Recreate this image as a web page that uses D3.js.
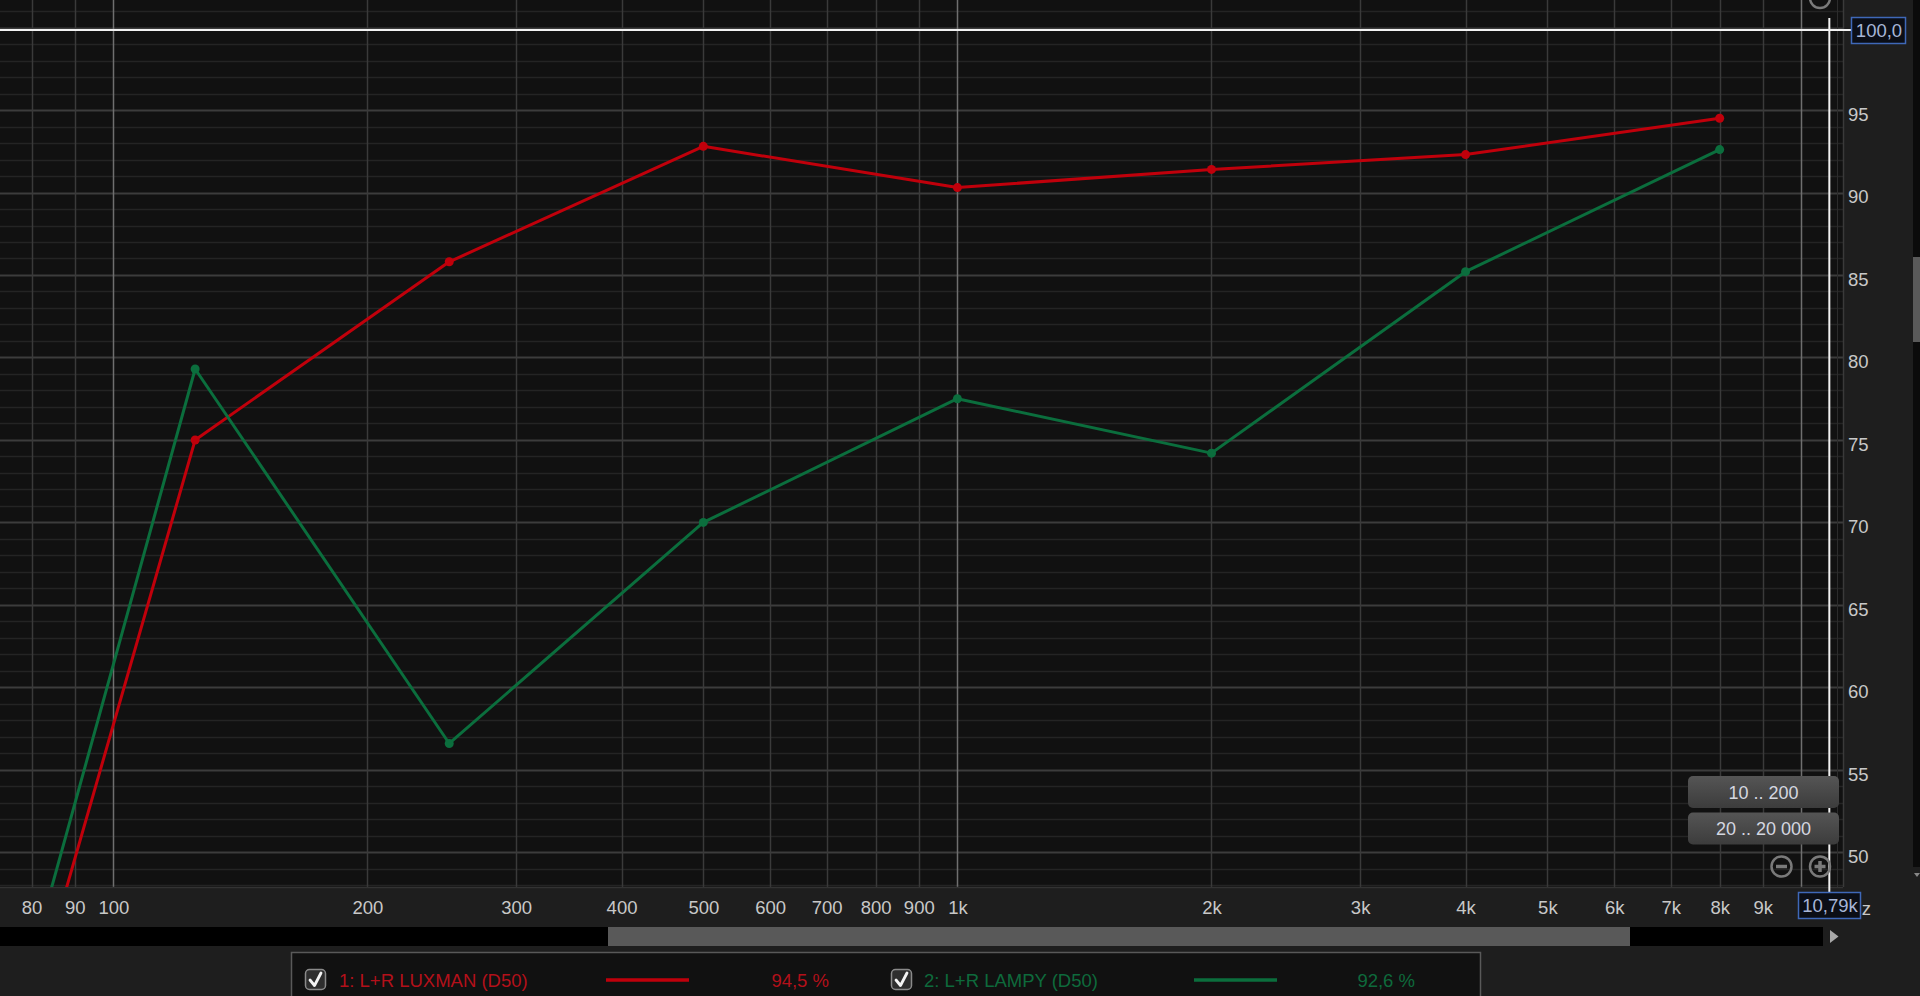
<!DOCTYPE html>
<html>
<head>
<meta charset="utf-8" />
<title>L+R LUXMAN / LAMPY</title>
<style>
body { margin:0; background:#1e1e1e; overflow:hidden; }
svg { display:block; font-family:"Liberation Sans", Arial, sans-serif; }
.tick text { fill:#c8c8c8; font-size:18.5px; }
.btn text { fill:#d4d7e0; font-size:18px; }
</style>
</head>
<body>
<script src="https://cdn.jsdelivr.net/npm/d3@7"></script>
<script>
// values (%), octave points
var freqs  = [63, 125, 250, 500, 1000, 2000, 4000, 8000];
var luxman = [22.0, 75.0, 85.8, 92.8, 90.3, 91.4, 92.3, 94.5];
var lampy  = [24.3, 79.3, 56.6, 70.0, 77.5, 74.2, 85.2, 92.6];

var seriesNames   = ["1: L+R LUXMAN (D50)", "2: L+R LAMPY (D50)"];
var seriesReadout = ["94,5 %", "92,6 %"];
var seriesColors  = ["#c0000b", "#0b6e3d"];
var textColors    = ["#b3101a", "#0e6a3c"];

var xTicks      = [80, 90, 100, 200, 300, 400, 500, 600, 700, 800, 900, 1000, 2000, 3000, 4000, 5000, 6000, 7000, 8000, 9000];
var xTickLabels = ["80","90","100","200","300","400","500","600","700","800","900","1k","2k","3k","4k","5k","6k","7k","8k","9k"];
var xGrid       = xTicks.concat([10000]);
var xDecades    = [100, 1000, 10000];
var yTicks      = [50, 55, 60, 65, 70, 75, 80, 85, 90, 95];

var rangeButtons = ["10 .. 200", "20 .. 20 000"];
var cursorFreq = 10790, cursorLevel = 99.85;
var cursorLabels = ["10,79k", "100,0"];

var width = 1920, height = 996;
var plotW = 1843, plotH = 887;

var svg = d3.select("body").append("svg")
    .attr("width", width)
    .attr("height", height);

var x = d3.scaleLog().domain([73.4, 11200]).range([0, plotW]);
var y = d3.scaleLinear().domain([47.9, 101.67]).range([plotH, 0]);

svg.append("rect").attr("width", width).attr("height", height).attr("fill", "#1e1e1e");
svg.append("rect").attr("width", plotW).attr("height", plotH).attr("fill", "#111111");

svg.append("clipPath").attr("id", "plotclip")
  .append("rect").attr("width", plotW).attr("height", plotH);

var grid = svg.append("g").attr("clip-path", "url(#plotclip)");

// horizontal grid: every 1 %, brighter every 5 %
grid.selectAll(".hline")
    .data(d3.range(48, 102))
    .enter().append("line")
    .attr("x1", 0).attr("x2", plotW)
    .attr("y1", function(d){ return Math.round(y(d)) + 0.5; })
    .attr("y2", function(d){ return Math.round(y(d)) + 0.5; })
    .attr("stroke", function(d){ return d % 5 == 0 ? "#3c3c3c" : "#242424"; })
    .attr("stroke-width", function(d){ return d % 5 == 0 ? 2 : 1.5; });

// vertical grid
grid.selectAll(".vline")
    .data(xGrid)
    .enter().append("line")
    .attr("x1", function(d){ return Math.round(x(d)) + 0.5; })
    .attr("x2", function(d){ return Math.round(x(d)) + 0.5; })
    .attr("y1", 0).attr("y2", plotH)
    .attr("stroke", function(d){ return xDecades.indexOf(d) >= 0 ? "#6f6f6f" : "#3a3a3a"; })
    .attr("stroke-width", 1.5);

// plot frame
svg.append("line").attr("x1", plotW - 5.5).attr("x2", plotW - 5.5).attr("y1", 0).attr("y2", plotH)
    .attr("stroke", "#2c2c2c").attr("stroke-width", 1);
svg.append("line").attr("x1", plotW + 0.5).attr("x2", plotW + 0.5).attr("y1", 0).attr("y2", plotH)
    .attr("stroke", "#3a3a3a").attr("stroke-width", 1.5);
svg.append("line").attr("x1", 0).attr("x2", plotW).attr("y1", plotH + 0.5).attr("y2", plotH + 0.5)
    .attr("stroke", "#333").attr("stroke-width", 1.5);

// series
var series = [luxman, lampy];
var line = d3.line()
    .x(function(d, i){ return x(freqs[i]); })
    .y(function(d){ return y(d); });

var lines = svg.append("g").attr("clip-path", "url(#plotclip)");

series.forEach(function(vals, s){
  lines.append("path")
      .datum(vals)
      .attr("d", line)
      .attr("fill", "none")
      .attr("stroke", seriesColors[s])
      .attr("stroke-width", 3)
      .attr("stroke-linejoin", "round");

  lines.selectAll(".pt" + s)
      .data(vals)
      .enter().append("circle")
      .attr("cx", function(d, i){ return x(freqs[i]); })
      .attr("cy", function(d){ return y(d); })
      .attr("r", 4.5)
      .attr("fill", seriesColors[s]);
});

// axes
var xAxis = svg.append("g")
    .attr("transform", "translate(0," + plotH + ")")
    .call(d3.axisBottom(x).tickValues(xTicks)
      .tickFormat(function(d, i){ return xTickLabels[i]; })
      .tickSize(0).tickPadding(14));
xAxis.select(".domain").remove();
xAxis.selectAll(".tick text").attr("dy", "0.71em").attr("font-family", "Liberation Sans, Arial, sans-serif");

var yAxis = svg.append("g")
    .attr("transform", "translate(" + plotW + ",0)")
    .call(d3.axisRight(y).tickValues(yTicks).tickSize(0).tickPadding(5));
yAxis.select(".domain").remove();
yAxis.selectAll(".tick text").attr("dy", "0.55em").attr("font-family", "Liberation Sans, Arial, sans-serif");

// Hz unit, partly under the cursor box
svg.append("text")
    .attr("x", 1871).attr("y", 915)
    .attr("text-anchor", "end")
    .attr("fill", "#c8c8c8").style("font-size", "18.5px")
    .text("Hz");

// cursor lines
var cx = x(cursorFreq), cy = y(cursorLevel);
svg.append("line").attr("x1", 0).attr("x2", 1852).attr("y1", cy).attr("y2", cy)
    .attr("stroke", "#f2f2f2").attr("stroke-width", 2);
svg.append("line").attr("x1", cx).attr("x2", cx).attr("y1", 18).attr("y2", 892)
    .attr("stroke", "#f2f2f2").attr("stroke-width", 2);

// range buttons
var btn = svg.selectAll(".btn")
    .data(rangeButtons)
    .enter().append("g")
    .attr("class", "btn")
    .attr("transform", function(d, i){ return "translate(1688," + (776 + i * 36.5) + ")"; });

var grad = svg.append("defs").append("linearGradient")
    .attr("id", "btngrad").attr("x1", 0).attr("x2", 0).attr("y1", 0).attr("y2", 1);
grad.append("stop").attr("offset", "0%").attr("stop-color", "#555555");
grad.append("stop").attr("offset", "100%").attr("stop-color", "#3c3c3c");

btn.append("rect")
    .attr("width", 151).attr("height", 32).attr("rx", 5)
    .attr("fill", "url(#btngrad)");
btn.append("text")
    .attr("x", 75.5).attr("y", 22.5)
    .attr("text-anchor", "middle")
    .text(function(d){ return d; });

// zoom icons
function zoomIcon(g, px, py, plus) {
  g.append("circle").attr("cx", px).attr("cy", py).attr("r", 10)
    .attr("fill", "none").attr("stroke", "#7a7a7a").attr("stroke-width", 2.5);
  g.append("line").attr("x1", px - 5.5).attr("x2", px + 5.5).attr("y1", py).attr("y2", py)
    .attr("stroke", "#7a7a7a").attr("stroke-width", 3.5);
  if (plus) g.append("line").attr("x1", px).attr("x2", px).attr("y1", py - 5.5).attr("y2", py + 5.5)
    .attr("stroke", "#7a7a7a").attr("stroke-width", 3.5);
}
var icons = svg.append("g");
zoomIcon(icons, 1781.5, 866.5, false);
zoomIcon(icons, 1820, 866.5, true);
zoomIcon(icons, 1820, -2, false);

// cursor readouts
function readout(px, py, w, txt) {
  svg.append("rect").attr("x", px + 0.5).attr("y", py + 0.5).attr("width", w).attr("height", 26)
    .attr("fill", "#0b0e16").attr("stroke", "#3f68b8").attr("stroke-width", 1.5);
  svg.append("text").attr("x", px + w / 2 + 1).attr("y", py + 20)
    .attr("text-anchor", "middle")
    .attr("fill", "#a7b6d8").style("font-size", "18.5px")
    .text(txt);
}
readout(1798, 892, 62, cursorLabels[0]);
readout(1851, 17, 54, cursorLabels[1]);

// right scroll track
svg.append("rect").attr("x", 1913).attr("y", 0).attr("width", 7).attr("height", 867).attr("fill", "#0b0b0b");
svg.append("rect").attr("x", 1913).attr("y", 257).attr("width", 7).attr("height", 85).attr("fill", "#5a5a5a");
svg.append("path").attr("d", "M1914,873 L1920,873 L1917,877 Z").attr("fill", "#888");

// bottom scroll bar
svg.append("rect").attr("x", 0).attr("y", 927).attr("width", 1823).attr("height", 19).attr("fill", "#000");
svg.append("rect").attr("x", 608).attr("y", 927).attr("width", 1022).attr("height", 19).attr("fill", "#595959");
svg.append("path").attr("d", "M1830,930 L1838.5,936.5 L1830,943 Z").attr("fill", "#a8a8a8");

// legend
var legend = svg.append("g");
legend.append("rect")
    .attr("x", 291.5).attr("y", 952.5).attr("width", 1189).attr("height", 60)
    .attr("fill", "#111111").attr("stroke", "#595959").attr("stroke-width", 1.5);

var legendX = [[305, 339, 606, 689, 829], [891, 924, 1194, 1277, 1415]];

seriesNames.forEach(function(name, s){
  var p = legendX[s];
  legend.append("rect")
      .attr("x", p[0] + 0.5).attr("y", 969.5).attr("width", 20).attr("height", 20).attr("rx", 4)
      .attr("fill", "#2e2e2e").attr("stroke", "#8a8a8a").attr("stroke-width", 1.5);
  legend.append("path")
      .attr("d", "M" + (p[0] + 5) + ",980 L" + (p[0] + 9.5) + ",985.5 L" + (p[0] + 16) + ",973")
      .attr("fill", "none").attr("stroke", "#f4f4f4").attr("stroke-width", 2.8)
      .attr("stroke-linecap", "round").attr("stroke-linejoin", "round");
  legend.append("text")
      .attr("x", p[1]).attr("y", 986.5)
      .attr("fill", textColors[s]).style("font-size", "18.5px")
      .text(name);
  legend.append("line")
      .attr("x1", p[2]).attr("x2", p[3]).attr("y1", 980).attr("y2", 980)
      .attr("stroke", seriesColors[s]).attr("stroke-width", 3.5);
  legend.append("text")
      .attr("x", p[4]).attr("y", 986.5)
      .attr("text-anchor", "end")
      .attr("fill", textColors[s]).style("font-size", "18.5px")
      .text(seriesReadout[s]);
});
</script>
</body>
</html>
